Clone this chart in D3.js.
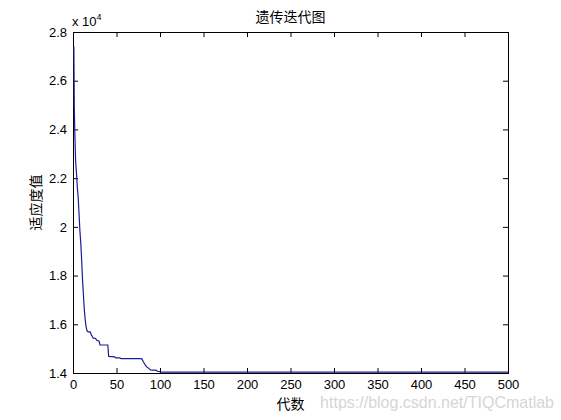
<!DOCTYPE html>
<html><head><meta charset="utf-8">
<script src="https://cdn.jsdelivr.net/npm/d3@7"></script>
<style>body{margin:0;background:#fff}svg{display:block}</style>
</head><body>
<svg id="c" width="561" height="420"></svg>
<script>
const generations = [1,1.5,2,3,4,5,6,7,8,9,10,11,12,13,14,15,16,17,20,21,22,23,26,27,30,31,40,41,48,49,54,55,79,81,83,85,87,89,96,97,100,101,500];
const fitness = [2.74,2.49,2.40,2.27,2.22,2.16,2.12,2.05,1.98,1.93,1.86,1.78,1.72,1.66,1.62,1.59,1.575,1.57,1.568,1.556,1.552,1.544,1.542,1.535,1.531,1.515,1.515,1.468,1.466,1.462,1.462,1.459,1.459,1.445,1.433,1.424,1.420,1.413,1.411,1.407,1.406,1.404,1.404];
const xTicks = [0,50,100,150,200,250,300,350,400,450,500];
const yTicks = [1.4,1.6,1.8,2,2.2,2.4,2.6,2.8];
const title = "遗传迭代图", xLabel = "代数", yLabel = "适应度值", expLabel = "x 10", watermark = "https://blog.csdn.net/TIQCmatlab";

const L=73,R=508,T=32,B=373;
const svg=d3.select("#c");
const x=d3.scaleLinear().domain([0,500]).range([L,R]);
const y=d3.scaleLinear().domain([1.4,2.8]).range([B,T]);
const font="'Liberation Sans', Arial, sans-serif";
const cjk="'Noto Sans CJK SC', sans-serif";
const tl=5;

const gxb=svg.append("g").attr("transform",`translate(0,${B})`)
 .call(d3.axisBottom(x).tickValues(xTicks).tickSizeInner(-tl).tickSizeOuter(0).tickPadding(7).tickFormat(d3.format("d")));
const gxt=svg.append("g").attr("transform",`translate(0,${T})`)
 .call(d3.axisTop(x).tickValues(xTicks).tickSizeInner(-tl).tickSizeOuter(0).tickFormat(""));
const gyl=svg.append("g").attr("transform",`translate(${L},0)`)
 .call(d3.axisLeft(y).tickValues(yTicks).tickSizeInner(-tl).tickSizeOuter(0).tickPadding(8).tickFormat(d=>d3.format("~g")(d)));
const gyr=svg.append("g").attr("transform",`translate(${R},0)`)
 .call(d3.axisRight(y).tickValues(yTicks).tickSizeInner(-tl).tickSizeOuter(0).tickFormat(""));
[gxb,gxt,gyl,gyr].forEach(g=>{
  g.select(".domain").remove();
  g.selectAll("line").attr("stroke","#000");
  g.selectAll("text").attr("font-family",font).attr("font-size",13).attr("fill","#000");
});
gxb.selectAll("text").attr("dy","0.71em");
gyl.selectAll("text").attr("dx","2");

svg.append("rect").attr("x",L+0.5).attr("y",T+0.5).attr("width",R-L).attr("height",B-T)
 .attr("fill","none").attr("stroke","#000").attr("stroke-width",1);

const pts=generations.map((g,i)=>[g,fitness[i]]);
svg.append("path").datum(pts)
 .attr("d",d3.line().x(d=>x(d[0])).y(d=>y(d[1])))
 .attr("fill","none").attr("stroke","#1c1c96").attr("stroke-width",1.2);

const ex=svg.append("text").attr("x",L-1).attr("y",T-6).attr("font-family",font).attr("font-size",13).text(expLabel);
ex.append("tspan").attr("font-size",9).attr("dy",-6).text("4");

svg.append("text").attr("x",(L+R)/2).attr("y",22).attr("text-anchor","middle")
 .attr("font-family",cjk).attr("font-size",14).text(title);
svg.append("text").attr("x",(L+R)/2).attr("y",409).attr("text-anchor","middle")
 .attr("font-family",cjk).attr("font-size",14).text(xLabel);
svg.append("text").attr("transform",`translate(41,${(T+B)/2}) rotate(-90)`).attr("text-anchor","middle")
 .attr("font-family",cjk).attr("font-size",14).text(yLabel);
svg.append("text").attr("x",554).attr("y",408).attr("text-anchor","end")
 .attr("font-family",font).attr("font-size",16).attr("fill","#d6d6d6").text(watermark);
</script>
</body></html>
